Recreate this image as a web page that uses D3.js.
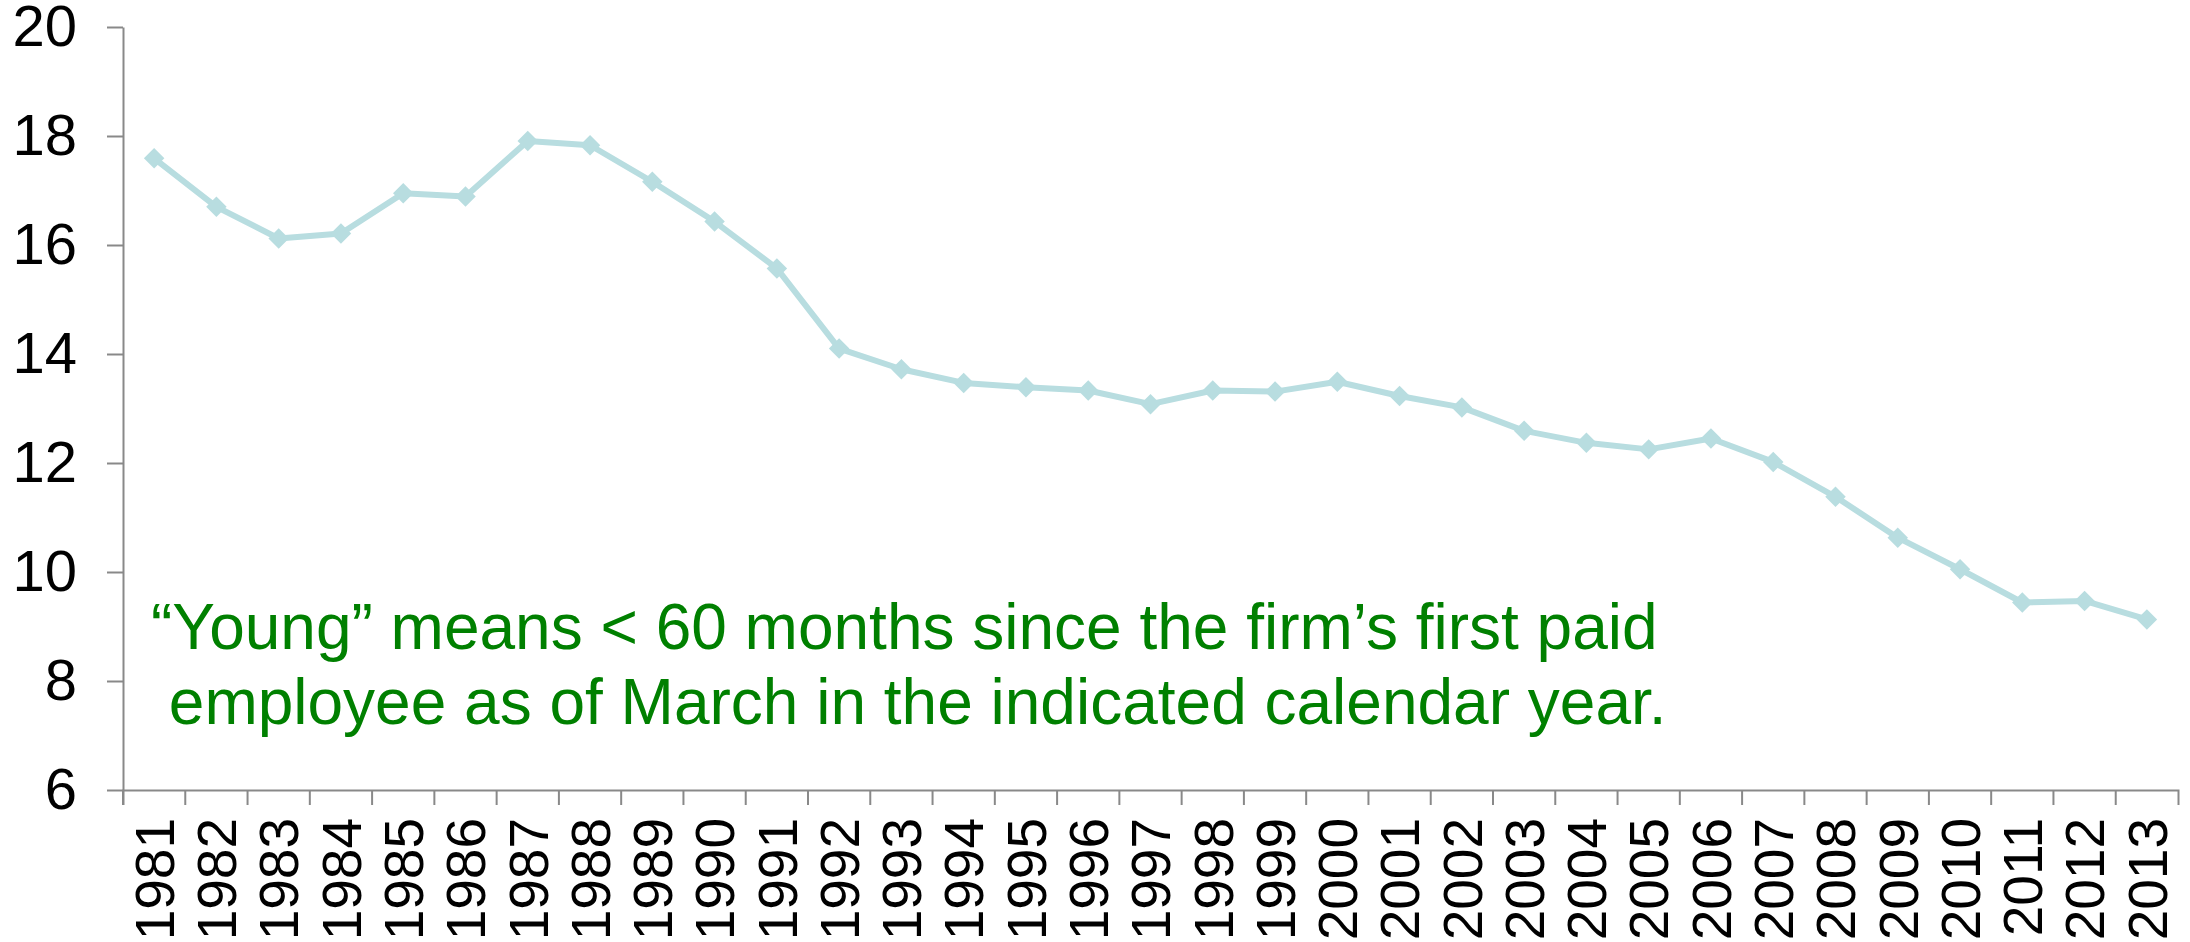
<!DOCTYPE html>
<meta charset="utf-8">
<script src="https://d3js.org/d3.v7.min.js"></script>
<style>
   body {
      background-color: white;
      margin: 0;
      padding: 0;
   }

   text {
      font-family: Arial, "Liberation Sans", sans-serif;
   }
</style>

<body>
   <svg id="my_dataviz" width="2190" height="942"></svg>
   <script>

      // chart data
      var years = ["1981", "1982", "1983", "1984", "1985", "1986", "1987", "1988", "1989", "1990",
         "1991", "1992", "1993", "1994", "1995", "1996", "1997", "1998", "1999", "2000",
         "2001", "2002", "2003", "2004", "2005", "2006", "2007", "2008", "2009", "2010",
         "2011", "2012", "2013"]

      var values = [17.59, 16.70, 16.12, 16.21, 16.95, 16.89, 17.91, 17.83, 17.16, 16.43,
         15.57, 14.10, 13.72, 13.47, 13.39, 13.33, 13.08, 13.33, 13.31, 13.49,
         13.23, 13.02, 12.59, 12.37, 12.25, 12.45, 12.02, 11.38, 10.63, 10.05,
         9.44, 9.47, 9.13]

      var yTicks = [6, 8, 10, 12, 14, 16, 18, 20]

      var noteLines = ["\u201CYoung\u201D means < 60 months since the firm\u2019s first paid",
         " employee as of March in the indicated calendar year."]

      var svg = d3.select("#my_dataviz"),
         width = +svg.attr("width"),
         height = +svg.attr("height");

      var axisColor = "#898989",
         lineColor = "#b8dde0"

      var x = d3.scaleBand()
         .domain(years)
         .range([123, 2178])

      var y = d3.scaleLinear()
         .domain([6, 20])
         .range([790, 27])

      // y axis
      var yAxis = svg.append("g")
         .attr("transform", "translate(123,0)")
         .call(d3.axisLeft(y).tickValues(yTicks).tickSize(16).tickSizeOuter(0).tickPadding(30))

      yAxis.select(".domain").attr("stroke", axisColor).attr("stroke-width", 2)
      yAxis.selectAll(".tick line").attr("stroke", axisColor).attr("stroke-width", 2)
      yAxis.selectAll(".tick text")
         .style("font-size", "58px")
         .style("font-family", "Arial, 'Liberation Sans', sans-serif")
         .attr("fill", "#000")

      // x axis (ticks sit between the categories)
      var xAxis = svg.append("g")
         .attr("transform", "translate(0,790)")
         .call(d3.axisBottom(x).tickSize(0).tickSizeOuter(15))

      xAxis.select(".domain").attr("stroke", axisColor).attr("stroke-width", 2)
      xAxis.selectAll(".tick").remove()

      xAxis.selectAll("line.sep")
         .data(years)
         .enter()
         .append("line")
         .attr("class", "sep")
         .attr("x1", function (d) { return x(d) })
         .attr("x2", function (d) { return x(d) })
         .attr("y1", 0)
         .attr("y2", 15)
         .attr("stroke", axisColor)
         .attr("stroke-width", 2)

      svg.append("g")
         .selectAll("text")
         .data(years)
         .enter()
         .append("text")
         .attr("transform", function (d) { return "translate(" + (x(d) + x.bandwidth() / 2) + ",818) rotate(-90)" })
         .attr("text-anchor", "end")
         .attr("dy", "0.36em")
         .style("font-size", "55px")
         .attr("fill", "#000")
         .text(function (d) { return d })

      // the line
      var line = d3.line()
         .x(function (d, i) { return x(years[i]) + x.bandwidth() / 2 })
         .y(function (d) { return y(d) })

      svg.append("path")
         .datum(values)
         .attr("d", line)
         .attr("fill", "none")
         .attr("stroke", lineColor)
         .attr("stroke-width", 6)
         .attr("stroke-linejoin", "round")

      // diamond markers
      svg.append("g")
         .selectAll("path")
         .data(values)
         .enter()
         .append("path")
         .attr("d", d3.symbol().type(d3.symbolSquare).size(210))
         .attr("transform", function (d, i) {
            return "translate(" + (x(years[i]) + x.bandwidth() / 2) + "," + y(d) + ") rotate(45)"
         })
         .attr("fill", lineColor)

      // note
      svg.append("g")
         .selectAll("text")
         .data(noteLines)
         .enter()
         .append("text")
         .attr("x", 151)
         .attr("y", function (d, i) { return 649 + i * 75 })
         .style("font-size", "64px")
         .style("white-space", "pre")
         .attr("fill", "#008000")
         .text(function (d) { return d })

   </script>
</body>
